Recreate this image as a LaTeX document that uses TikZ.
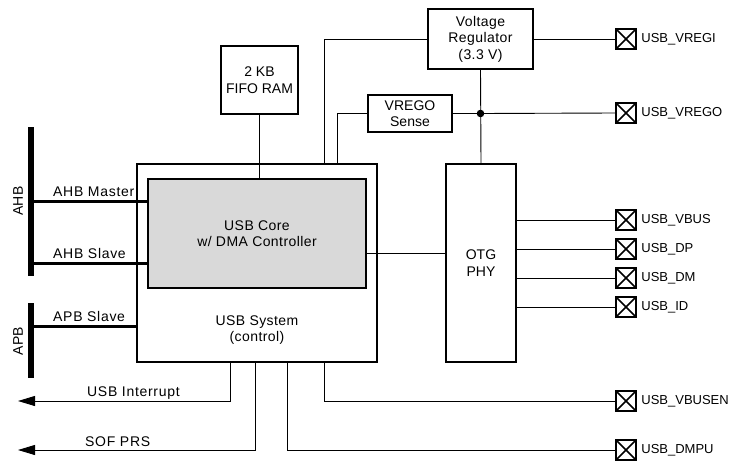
\documentclass[tikz,border=0pt]{standalone}
\usepackage{fontspec}
\setmainfont{Liberation Sans}
\newfontfamily\spacedfont[LetterSpace=5]{Liberation Sans}
\newfontfamily\midfont[LetterSpace=3]{Liberation Sans}
\usetikzlibrary{arrows.meta}
\begin{document}
\begin{tikzpicture}[x=1pt,y=-1pt,
  font=\fontsize{14}{16.5}\selectfont,
  box/.style={draw, line width=1.8pt, align=center, inner sep=0pt},
  wire/.style={line width=0.9pt},
  bus/.style={line width=3pt},
  bar/.style={fill=black, inner sep=0pt, minimum width=6pt},
  xpin/.style={draw, line width=1.7pt, minimum size=20pt, inner sep=0pt,
    path picture={\draw[line width=1.5pt] (path picture bounding box.north west) -- (path picture bounding box.south east)
      (path picture bounding box.south west) -- (path picture bounding box.north east);}},
  pinlbl/.style={label={[label distance=1pt, font=\fontsize{13}{16}\selectfont]right:#1}},
  outarrow/.style={wire, -{Triangle[length=17pt,width=10pt]}},
  lbl/.style={inner sep=0pt, font=\fontsize{14}{16.5}\spacedfont},
  midtxt/.style={font=\fontsize{14}{16.5}\midfont}
]
\useasboundingbox (0,0) rectangle (735,460);

% buses
\node[bar, minimum height=149pt] (ahb) at (31,201.5) {};
\node[bar, minimum height=75pt] (apb) at (31,340.5) {};
\node[inner sep=0pt, rotate=90] (ahbl) at (18,201) {AHB};
\node[inner sep=0pt, rotate=90] (apbl) at (18,341) {APB};

% blocks
\node[box, minimum width=240pt, minimum height=198pt] (sys) at (257,263) {};
\node[box, midtxt, line width=1.1pt, fill=black!15, minimum width=218pt, minimum height=109pt] (core) at (257,233.5) {USB Core\\w/ DMA Controller};
\node[inner sep=0pt, midtxt, align=center] (systxt) at (257,330) {USB System\\(control)};
\node[box, minimum width=77pt, minimum height=68pt] (fifo) at (259.5,80) {2 KB\\FIFO RAM};
\node[box, midtxt, minimum width=105pt, minimum height=60pt] (vreg) at (480.5,39) {Voltage\\Regulator\\(3.3 V)};
\node[box, minimum width=84pt, minimum height=37pt] (sense) at (410,113.5) {VREGO\\Sense};
\node[box, minimum width=70pt, minimum height=198pt] (otg) at (481,263) {OTG\\PHY};

% pins
\node[xpin, pinlbl=USB\_VREGI] (vregi) at (626,39) {};
\node[xpin, pinlbl=USB\_VREGO] (vrego) at (626,113) {};
\node[xpin, pinlbl=USB\_VBUS] (vbus) at (626,220) {};
\node[xpin, pinlbl=USB\_DP] (dp) at (626,249) {};
\node[xpin, pinlbl=USB\_DM] (dm) at (626,278) {};
\node[xpin, pinlbl=USB\_ID] (id) at (626,307) {};
\node[xpin, pinlbl=USB\_VBUSEN] (vbusen) at (626,401) {};
\node[xpin, pinlbl=USB\_DMPU] (dmpu) at (626,450) {};

% bus connections
\draw[bus] (ahb.east |- 0,201) -- (core.west |- 0,201);
\draw[bus] (ahb.east |- 0,263) -- (core.west |- 0,263);
\draw[bus] (apb.east |- 0,326) -- (sys.west |- 0,326);
\node[lbl, anchor=base west] (ahbm) at (53,196) {AHB Master};
\node[lbl, anchor=base west] (ahbs) at (53,258) {AHB Slave};
\node[lbl, anchor=base west] (apbs) at (53,321) {APB Slave};

% internal wires
\draw[wire] (fifo.south) -- (core.north -| fifo.south);
\draw[wire] (sys.north -| 324,0) |- (vreg.west);
\draw[wire] (sys.north -| 337,0) |- (sense.west);
\draw[wire] (vreg.south) -- (otg.north);
\coordinate (junc) at (vreg.south |- sense.east);
\draw[wire] (sense.east) -- (junc) -- (vrego.west);
\fill (junc) circle (3.8pt);
\draw[wire] (vreg.east) -- (vregi.west);
\draw[wire] (core.east |- 0,253) -- (otg.west |- 0,253);
\foreach \p in {vbus,dp,dm,id} \draw[wire] (otg.east |- \p.west) -- (\p.west);

% bottom wires
\coordinate (intend) at (18,401);
\coordinate (sofend) at (18,450);
\draw[outarrow] (sys.south -| 230,0) |- (intend);
\draw[outarrow] (sys.south -| 255,0) |- (sofend);
\node[lbl, anchor=base west] (intl) at (87,396) {USB Interrupt};
\node[lbl, anchor=base west] (sofl) at (85,446) {SOF PRS};
\draw[wire] (sys.south -| 324,0) |- (vbusen.west);
\draw[wire] (sys.south -| 287,0) |- (dmpu.west);
\end{tikzpicture}
\end{document}
